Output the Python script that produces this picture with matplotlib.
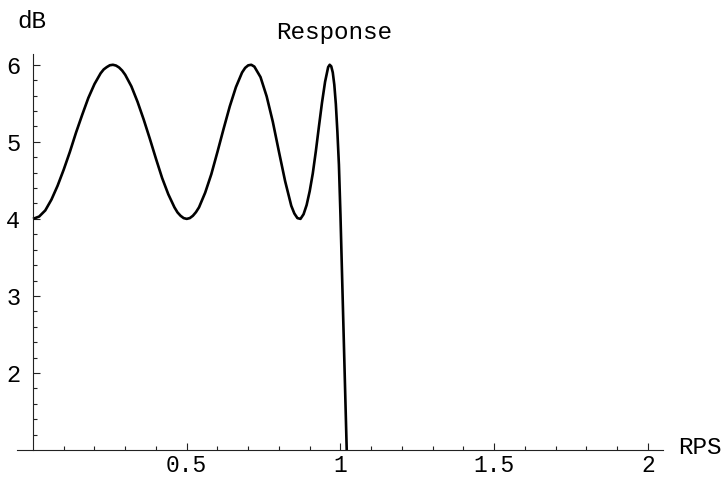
import matplotlib.pyplot as plt
import numpy as np

# frequency (rad/s) and gain (dB) of the filter response
rps = [0.00, 0.02, 0.04, 0.06, 0.08, 0.10, 0.12, 0.14, 0.16, 0.18,
       0.20, 0.22, 0.23, 0.24, 0.25, 0.26, 0.27, 0.28, 0.29, 0.30,
       0.32, 0.34, 0.36, 0.38, 0.40, 0.42, 0.44, 0.46, 0.47, 0.48,
       0.49, 0.50, 0.51, 0.52, 0.53, 0.54, 0.56, 0.58, 0.60, 0.62,
       0.64, 0.66, 0.68, 0.69, 0.70, 0.71, 0.72, 0.74, 0.76, 0.78,
       0.80, 0.82, 0.84, 0.85, 0.86, 0.87, 0.88, 0.89, 0.90, 0.91, 0.92,
       0.93, 0.94, 0.95, 0.96, 0.965, 0.97, 0.975, 0.98, 0.985, 0.99,
       0.995, 1.000, 1.005, 1.010, 1.015, 1.020, 1.025]
db = [4.00, 4.03, 4.11, 4.25, 4.43, 4.64, 4.87, 5.12, 5.35, 5.57,
      5.75, 5.89, 5.94, 5.97, 5.994, 6.00, 5.99, 5.965, 5.925, 5.87,
      5.72, 5.52, 5.29, 5.04, 4.78, 4.53, 4.32, 4.15, 4.084, 4.04,
      4.01, 4.00, 4.01, 4.04, 4.087, 4.15, 4.34, 4.58, 4.87, 5.17,
      5.46, 5.71, 5.90, 5.96, 5.993, 6.00, 5.976, 5.84, 5.59, 5.26,
      4.87, 4.49, 4.17, 4.07, 4.01, 4.00, 4.06, 4.18, 4.36, 4.59, 4.88,
      5.20, 5.51, 5.78, 5.97, 6.00, 5.98, 5.90, 5.74, 5.49, 5.13,
      4.70, 4.05, 3.30, 2.55, 1.80, 1.05, 0.30]

x_major = [0.5, 1, 1.5, 2]
x_labels = ["0.5", "1", "1.5", "2"]
y_major = [2, 3, 4, 5, 6]
y_labels = ["2", "3", "4", "5", "6"]

W, H = 726, 478
fig = plt.figure(figsize=(W / 100, H / 100), dpi=100)
# axes box in pixels: left 17, right 663, top 54, bottom 450
ax = fig.add_axes([17 / W, (H - 450) / H, 646 / W, 396 / H])
ax.set_xlim(-0.052, 2.049)
ax.set_ylim(1.0, 6.14)

ax.plot(rps, db, color="black", lw=1.9, solid_capstyle="butt",
        solid_joinstyle="round")

for s in ["top", "right"]:
    ax.spines[s].set_visible(False)
ax.spines["left"].set_position(("data", 0))
ax.spines["bottom"].set_position(("data", 1))
for s in ["left", "bottom"]:
    ax.spines[s].set_linewidth(0.8)
    ax.spines[s].set_color("#222222")

mono = "Liberation Mono"
ax.set_xticks(x_major)
ax.set_xticklabels(x_labels, fontfamily=mono, fontsize=16.5)
ax.set_xticks(np.arange(0.1, 2.05, 0.1), minor=True)
ax.set_yticks(y_major)
ax.set_yticklabels(y_labels, fontfamily=mono, fontsize=17)
ax.set_yticks(np.arange(1.2, 6.1, 0.2), minor=True)
ax.tick_params(which="both", direction="in", color="#222222", width=0.8)
ax.tick_params(which="major", length=5)
ax.tick_params(which="minor", length=3)
ax.tick_params(axis="x", which="major", pad=3)
ax.tick_params(axis="y", which="major", pad=9)

fig.text(334 / W, 1 - 33 / H, "Response", fontfamily=mono, fontsize=17.5,
         ha="center", va="center")
fig.text(32 / W, 1 - 21 / H, "dB", fontfamily=mono, fontsize=17.5,
         ha="center", va="center")
fig.text(700 / W, 1 - 447 / H, "RPS", fontfamily=mono, fontsize=17.5,
         ha="center", va="center")

fig.savefig("out.png", dpi=100)
